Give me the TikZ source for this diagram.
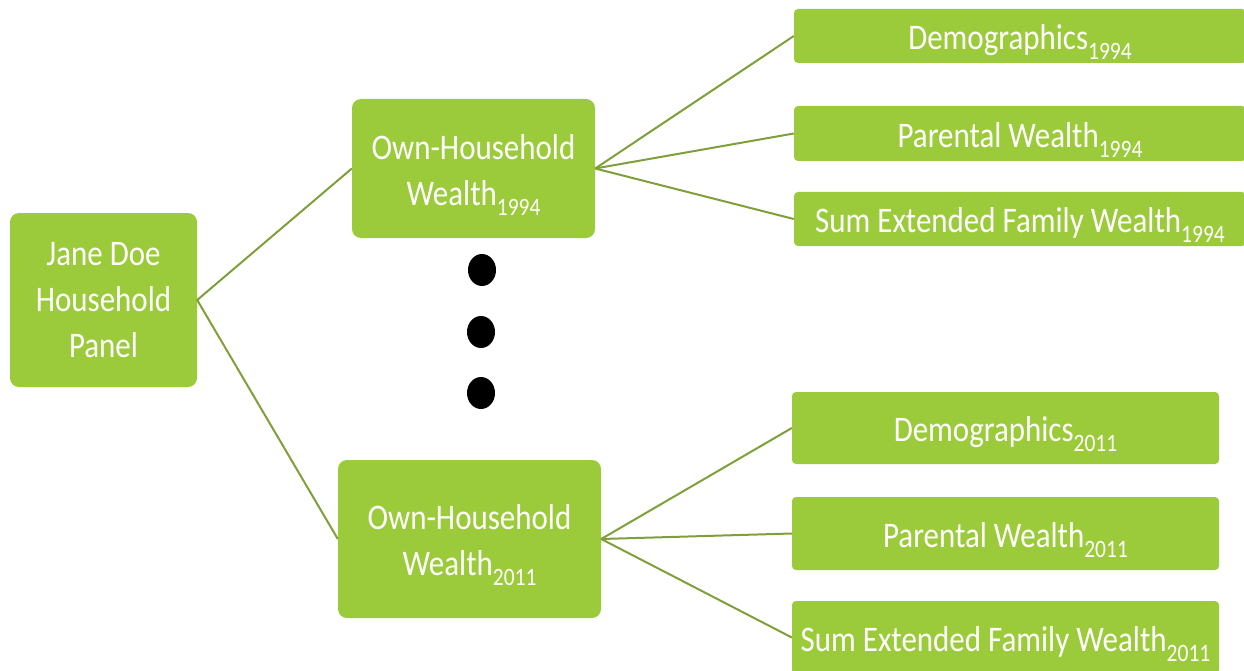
\documentclass[tikz,border=0pt]{standalone}
\usepackage{fontspec}
\setmainfont{Carlito}[FakeStretch=0.86]
\usetikzlibrary{shapes.geometric}
\definecolor{boxgreen}{HTML}{9BCB3B}
\definecolor{linegreen}{HTML}{7F9F3A}
\newcommand\yrsub[1]{\raisebox{-0.28em}{\fontsize{25}{25}\selectfont #1}}
\newcommand\dntext[1]{\raisebox{-4.5pt}[\height][\depth]{\begin{tabular}{@{}c@{}}#1\end{tabular}}}
\tikzset{
  bigbox/.style={fill=boxgreen, rounded corners=9pt, text=white, align=center,
    font=\fontsize{36}{46}\selectfont, inner sep=0pt},
  leafbox/.style={fill=boxgreen, rounded corners=4pt, text=white, align=center,
    font=\fontsize{36}{46}\selectfont, inner sep=0pt},
  link/.style={draw=linegreen, line width=2pt},
  dotmark/.style={fill=black, draw=none, ellipse, minimum width=28pt, minimum height=32pt, inner sep=0pt}
}
\begin{document}
\begin{tikzpicture}[x=1pt,y=-1pt]
\useasboundingbox (0,0) rectangle (1244,671);
\clip (0,0) rectangle (1244,671);
\node[bigbox, minimum width=187pt, minimum height=174pt] (jane) at (103.5,300) {Jane Doe\\Household\\Panel};
\node[bigbox, minimum width=243pt, minimum height=139pt] (own94) at (473.5,168.5) {\dntext{Own-Household\\Wealth\yrsub{1994}}};
\node[bigbox, minimum width=263pt, minimum height=158pt] (own11) at (469.5,539) {\dntext{Own-Household\\Wealth\yrsub{2011}}};
\node[leafbox, minimum width=452pt, minimum height=54pt] (demo94) at (1020,36) {\dntext{Demographics\yrsub{1994}}};
\node[leafbox, minimum width=452pt, minimum height=55pt] (par94) at (1020,133.5) {\dntext{Parental Wealth\yrsub{1994}}};
\node[leafbox, minimum width=452pt, minimum height=54pt] (sum94) at (1020,219) {\dntext{Sum Extended Family Wealth\yrsub{1994}}};
\node[leafbox, minimum width=427pt, minimum height=72pt] (demo11) at (1005.5,428) {\dntext{Demographics\yrsub{2011}}};
\node[leafbox, minimum width=427pt, minimum height=73pt] (par11) at (1005.5,533.5) {\dntext{Parental Wealth\yrsub{2011}}};
\node[leafbox, minimum width=427pt, minimum height=73pt] (sum11) at (1005.5,637.5) {\dntext{Sum Extended Family Wealth\yrsub{2011}}};
\node[dotmark] (d1) at (482,270) {};
\node[dotmark] (d2) at (481,332) {};
\node[dotmark] (d3) at (481,393) {};
\draw[link] (jane.east) -- (own94.west);
\draw[link] (jane.east) -- (own11.west);
\draw[link] (own94.east) -- (demo94.west);
\draw[link] (own94.east) -- (par94.west);
\draw[link] (own94.east) -- (sum94.west);
\draw[link] (own11.east) -- (demo11.west);
\draw[link] (own11.east) -- (par11.west);
\draw[link] (own11.east) -- (sum11.west);
\end{tikzpicture}
\end{document}
